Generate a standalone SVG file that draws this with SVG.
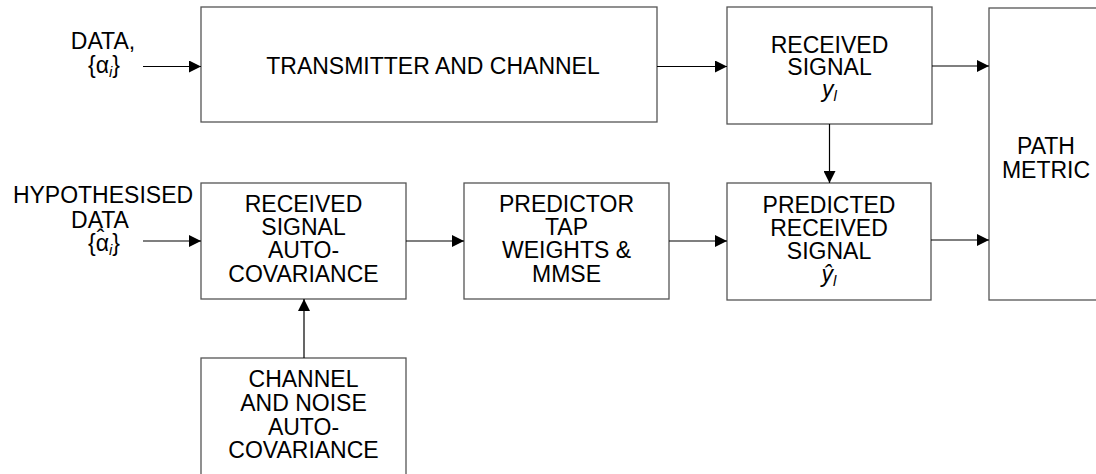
<svg xmlns="http://www.w3.org/2000/svg" width="1096" height="474" viewBox="0 0 1096 474">
  <style>
    .box { fill: #ffffff; stroke: #555555; stroke-width: 1.3; }
    .lbl { font-family: "Liberation Sans", Arial, sans-serif; font-size: 23px; fill: #000000; text-anchor: middle; }
    .sub { font-size: 15px; font-style: italic; }
    .it { font-style: italic; }
    .wire { fill: none; stroke: #000000; stroke-width: 1.2; marker-end: url(#head); }
  </style>
  <defs>
    <marker id="head" markerUnits="userSpaceOnUse" markerWidth="13" markerHeight="12" refX="12" refY="6" orient="auto">
      <path d="M0,0 L12,6 L0,12 z" fill="#000000"/>
    </marker>
  </defs>
  <rect width="1096" height="474" fill="#ffffff"/>

  <!-- input labels -->
  <g id="data-in">
    <text class="lbl"><tspan x="103" y="49">DATA,</tspan><tspan x="104" y="73">{α<tspan class="sub" dy="4">i</tspan><tspan dy="-4">}</tspan></tspan></text>
  </g>
  <g id="hyp-data-in">
    <text class="lbl"><tspan x="103" y="203">HYPOTHESISED</tspan><tspan x="100" y="228">DATA</tspan><tspan x="104" y="251">{α<tspan class="sub" dy="4">i</tspan><tspan dy="-4">}</tspan></tspan><tspan x="100.5" y="246">ˆ</tspan></text>
  </g>

  <!-- blocks -->
  <g id="tx-channel">
    <rect class="box" x="201" y="7" width="456" height="115"/>
    <text class="lbl" x="433" y="74">TRANSMITTER AND CHANNEL</text>
  </g>
  <g id="rx-signal">
    <rect class="box" x="727" y="7" width="205" height="117"/>
    <text class="lbl"><tspan x="829.5" y="53">RECEIVED</tspan><tspan x="829.5" y="75">SIGNAL</tspan><tspan x="829.5" y="97"><tspan class="it">y</tspan><tspan class="sub" dy="4">l</tspan></tspan></text>
  </g>
  <g id="path-metric">
    <rect class="box" x="989" y="8" width="112" height="292"/>
    <text class="lbl"><tspan x="1046" y="154">PATH</tspan><tspan x="1046" y="178">METRIC</tspan></text>
  </g>
  <g id="rx-autocov">
    <rect class="box" x="201" y="183" width="205" height="116"/>
    <text class="lbl"><tspan x="303.5" y="212">RECEIVED</tspan><tspan x="303.5" y="235">SIGNAL</tspan><tspan x="303.5" y="258">AUTO-</tspan><tspan x="303.5" y="282">COVARIANCE</tspan></text>
  </g>
  <g id="predictor">
    <rect class="box" x="464" y="183" width="205" height="116"/>
    <text class="lbl"><tspan x="566.5" y="212">PREDICTOR</tspan><tspan x="566.5" y="235">TAP</tspan><tspan x="566.5" y="258">WEIGHTS &amp;</tspan><tspan x="566.5" y="282">MMSE</tspan></text>
  </g>
  <g id="predicted-rx">
    <rect class="box" x="727" y="183" width="204" height="117"/>
    <text class="lbl"><tspan x="829" y="213">PREDICTED</tspan><tspan x="829" y="236">RECEIVED</tspan><tspan x="829" y="259">SIGNAL</tspan><tspan x="829" y="282"><tspan class="it">ŷ</tspan><tspan class="sub" dy="4">l</tspan></tspan></text>
  </g>
  <g id="chan-noise-autocov">
    <rect class="box" x="201" y="358" width="205" height="130"/>
    <text class="lbl"><tspan x="303.5" y="387">CHANNEL</tspan><tspan x="303.5" y="411">AND NOISE</tspan><tspan x="303.5" y="435">AUTO-</tspan><tspan x="303.5" y="458">COVARIANCE</tspan></text>
  </g>

  <!-- connectors -->
  <g id="connectors">
    <line class="wire" x1="143" y1="66.5" x2="201" y2="66.5"/>
    <line class="wire" x1="657" y1="66.5" x2="727" y2="66.5"/>
    <line class="wire" x1="932" y1="66" x2="989" y2="66"/>
    <line class="wire" x1="829.5" y1="124" x2="829.5" y2="183"/>
    <line class="wire" x1="143" y1="241" x2="201" y2="241"/>
    <line class="wire" x1="406" y1="241" x2="464" y2="241"/>
    <line class="wire" x1="669" y1="241" x2="727" y2="241"/>
    <line class="wire" x1="931" y1="240" x2="989" y2="240"/>
    <line class="wire" x1="304" y1="358" x2="304" y2="299"/>
  </g>
</svg>
